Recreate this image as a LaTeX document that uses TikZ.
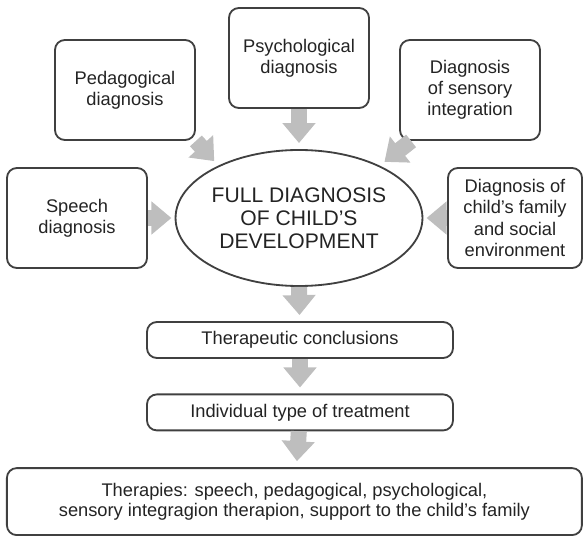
\documentclass[tikz,border=0pt]{standalone}
\usepackage{fontspec}
\setmainfont{Liberation Sans}
\usetikzlibrary{shapes.geometric, arrows.meta, positioning}
\definecolor{boxline}{RGB}{64, 64, 64}
\definecolor{flowgray}{RGB}{190, 190, 190}
\definecolor{inkgray}{RGB}{35, 35, 35}

\tikzset{
  diagbox/.style={draw=boxline, line width=1.3pt, rounded corners=7pt, align=center, text=inkgray, font=\fontsize{13}{15}\selectfont, inner sep=2pt},
  flow/.style={flowgray, line width=0.4cm, -{Triangle[width=0.8cm, length=0.5cm]}, shorten >=0.15cm}
}

\begin{document}
\begin{tikzpicture}
  \useasboundingbox (0, 0) rectangle (14.575, -13.4);

  % Central node
  \node[ellipse, draw=boxline, line width=1.3pt, minimum width=6cm, minimum height=3.4cm, inner sep=0pt, align=center, text=inkgray, font=\fontsize{15}{16.5}\selectfont] (full) at (7.475, -5.45) {FULL DIAGNOSIS\\OF CHILD’S\\DEVELOPMENT};

  % Partial diagnoses
  \node[diagbox, minimum width=3.5cm, minimum height=2.5cm] (psych) at (7.475, -1.45) {Psychological\\diagnosis};
  \node[diagbox, minimum width=3.5cm, minimum height=2.5cm] (ped) at (3.125, -2.25) {Pedagogical\\diagnosis};
  \node[diagbox, minimum width=3.5cm, minimum height=2.5cm] (sens) at (11.75, -2.25) {Diagnosis\\of sensory\\integration};
  \node[diagbox, minimum width=3.5cm, minimum height=2.5cm] (speech) at (1.925, -5.45) {Speech\\diagnosis};
  \node[diagbox, minimum width=3.35cm, minimum height=2.5cm] (family) at (12.875, -5.45) {Diagnosis of\\child’s family\\and social\\environment};

  \draw[flow] (psych) -- (full);
  \draw[flow] (ped.south east) -- (full.147);
  \draw[flow] ([xshift=0.3cm]sens.south west) -- (full.33);
  \draw[flow, shorten >=0.08cm] (speech) -- (full);
  \draw[flow, shorten >=0.08cm] (family) -- (full);

  % Treatment chain
  \node[diagbox, minimum width=7.65cm, minimum height=0.9cm] (concl) at (7.5, -8.5) {Therapeutic conclusions};
  \node[diagbox, minimum width=7.65cm, minimum height=0.9cm] (treat) at (7.5, -10.31) {Individual type of treatment};
  \node[diagbox, minimum width=14.375cm, minimum height=1.675cm, font=\fontsize{13}{14.5}\selectfont] (ther) at (7.36, -12.54) {Therapies: speech, pedagogical, psychological,\\sensory integragion therapion, support to the child’s family};

  \draw[flow] (full.south) -- (concl);
  \draw[flow] (concl) -- (treat);
  \draw[flow] (treat) -- (ther);
\end{tikzpicture}
\end{document}
